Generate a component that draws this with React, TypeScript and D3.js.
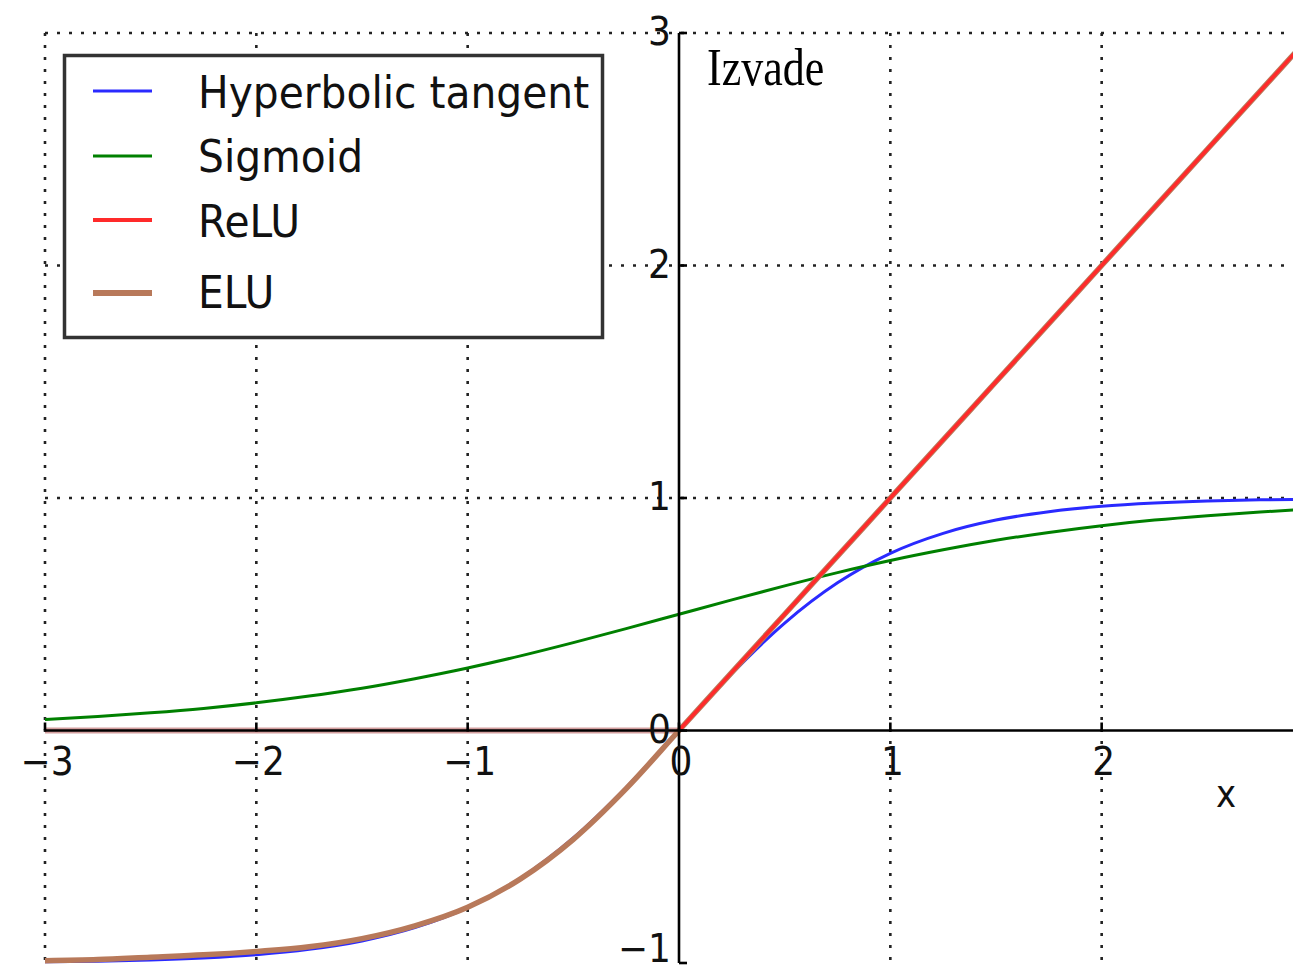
import React from "react";
import * as d3 from "d3";

const xs = [-3, -2.75, -2.5, -2.25, -2, -1.75, -1.5, -1.25, -1, -0.75, -0.5, -0.25, 0, 0.25, 0.5, 0.75, 1, 1.25, 1.5, 1.75, 2, 2.25, 2.5, 2.75, 3];
const tanhVals = [-0.995, -0.992, -0.987, -0.978, -0.964, -0.941, -0.905, -0.848, -0.762, -0.635, -0.462, -0.245, 0, 0.245, 0.462, 0.635, 0.762, 0.848, 0.905, 0.941, 0.964, 0.978, 0.987, 0.992, 0.995];
const sigmoidVals = [0.047, 0.06, 0.076, 0.095, 0.119, 0.148, 0.182, 0.223, 0.269, 0.321, 0.378, 0.438, 0.5, 0.562, 0.622, 0.679, 0.731, 0.777, 0.818, 0.852, 0.881, 0.905, 0.924, 0.94, 0.953];
const reluVals = [0, 0, 0, 0, 0, 0, 0, 0, 0, 0, 0, 0, 0, 0.25, 0.5, 0.75, 1, 1.25, 1.5, 1.75, 2, 2.25, 2.5, 2.75, 3];
const eluVals = [-0.99, -0.985, -0.975, -0.965, -0.95, -0.93, -0.895, -0.84, -0.76, -0.638, -0.468, -0.25, 0, 0.25, 0.5, 0.75, 1, 1.25, 1.5, 1.75, 2, 2.25, 2.5, 2.75, 3];

const xTicks = [-3, -2, -1, 0, 1, 2];
const yTicks = [-1, 0, 1, 2, 3];
const xGrid = [-3, -2, -1, 1, 2];
const yGrid = [1, 2, 3];

const legendItems = ["Hyperbolic tangent", "Sigmoid", "ReLU", "ELU"];
const seriesColors = ["#2a2aff", "#008000", "#ff2a2a", "#b8795a"];
const seriesWidths = [3, 3, 3.5, 5.5];

const W = 1293;
const H = 975;

const fmt = (v: number) => (v < 0 ? "\u2212" + Math.abs(v) : String(v));

export default function App() {
  const x = d3.scaleLinear().domain([-3, 3]).range([45, 1313]);
  const y = d3.scaleLinear().domain([-1, 3]).range([963, 33]);

  const pts = (vals: number[]) => xs.map((xv, i) => [xv, vals[i]] as [number, number]);
  const smooth = d3
    .line<[number, number]>()
    .x((d) => x(d[0]))
    .y((d) => y(d[1]))
    .curve(d3.curveMonotoneX);
  const straight = d3
    .line<[number, number]>()
    .x((d) => x(d[0]))
    .y((d) => y(d[1]));

  const reluPts = pts(reluVals);
  const reluNeg = reluPts.filter((d) => d[0] <= 0);
  const reluPos = reluPts.filter((d) => d[0] >= 0);

  const x0 = x(0);
  const y0 = y(0);
  const left = x(-3);
  const top = y(3);
  const bottom = y(-1);

  const sans = "'DejaVu Sans', sans-serif";

  const legendYs = [91, 156, 220, 293];
  const legendBase = [108, 172, 237, 308];

  return (
    <svg
      width={W}
      height={H}
      style={{ position: "absolute", left: 0, top: 0, background: "#fff" }}
    >
      <rect x={0} y={0} width={W} height={H} fill="#fff" />
      <defs>
        <clipPath id="plot">
          <rect x={left - 4} y={top - 4} width={W - left + 8} height={bottom - top + 8} />
        </clipPath>
      </defs>
      {/* grid */}
      <g stroke="#222" strokeWidth={2.6} strokeDasharray="3,9">
        {xGrid.map((g) => (
          <line key={"xg" + g} x1={x(g)} x2={x(g)} y1={top} y2={bottom} />
        ))}
        {yGrid.map((g) => (
          <line key={"yg" + g} x1={left} x2={W} y1={y(g)} y2={y(g)} />
        ))}
      </g>
      {/* curves */}
      <g clipPath="url(#plot)" fill="none" strokeLinejoin="round" strokeLinecap="butt">
        <path d={smooth(pts(tanhVals)) || ""} stroke={seriesColors[0]} strokeWidth={seriesWidths[0]} />
        <path d={smooth(pts(sigmoidVals)) || ""} stroke={seriesColors[1]} strokeWidth={seriesWidths[1]} />
        <path d={straight(reluNeg) || ""} stroke="#b05050" strokeWidth={6} strokeOpacity={0.55} />
        <path d={smooth(pts(eluVals)) || ""} stroke={seriesColors[3]} strokeWidth={seriesWidths[3]} />
        <path d={straight(reluPos) || ""} stroke={seriesColors[2]} strokeWidth={seriesWidths[2]} />
      </g>
      {/* spines */}
      <line x1={x0} x2={x0} y1={top} y2={bottom} stroke="#000" strokeWidth={2.6} />
      <line x1={left} x2={W} y1={y0} y2={y0} stroke="#000" strokeWidth={2.6} />
      {/* ticks */}
      <g stroke="#000" strokeWidth={2.6}>
        {xTicks.map((t) => (
          <line key={"xt" + t} x1={x(t)} x2={x(t)} y1={y0} y2={y0 - 8} />
        ))}
        {yTicks.map((t) => (
          <line key={"yt" + t} x1={x0} x2={x0 + 8} y1={y(t)} y2={y(t)} />
        ))}
      </g>
      {/* tick labels */}
      <g fontFamily={sans} fontSize={36} fill="#111">
        {xTicks.map((t) => (
          <text
            key={"xl" + t}
            textAnchor="middle"
            transform={`translate(${x(t) + 2},${y0 + 44}) scale(1,1.1)`}
          >
            {fmt(t)}
          </text>
        ))}
        {yTicks.map((t) => (
          <text
            key={"yl" + t}
            textAnchor="end"
            transform={`translate(${x0 - 8},${t === -1 ? y(t) - 1 : y(t) + 12}) scale(1,1.1)`}
          >
            {fmt(t)}
          </text>
        ))}
      </g>
      {/* axis label x */}
      <text
        fontFamily={sans}
        fontSize={34}
        fill="#111"
        textAnchor="middle"
        transform={`translate(1226,807) scale(1,1.15)`}
      >
        x
      </text>
      {/* Izvade */}
      <text
        fontFamily="'Liberation Serif', 'Times New Roman', serif"
        fontSize={44}
        fill="#000"
        transform={`translate(707,85) scale(1,1.2)`}
      >
        Izvade
      </text>
      {/* legend */}
      <rect x={64.5} y={55.5} width={538} height={282} fill="#fff" stroke="#333" strokeWidth={3.5} />
      {legendItems.map((name, i) => (
        <g key={name}>
          <line
            x1={93}
            x2={152}
            y1={legendYs[i]}
            y2={legendYs[i]}
            stroke={seriesColors[i]}
            strokeWidth={i === 3 ? 6 : i === 2 ? 4 : 3}
          />
          <text
            fontFamily={sans}
            fontSize={40.8}
            fill="#111"
            transform={`translate(198,${legendBase[i]}) scale(1,1.1)`}
          >
            {name}
          </text>
        </g>
      ))}
    </svg>
  );
}
